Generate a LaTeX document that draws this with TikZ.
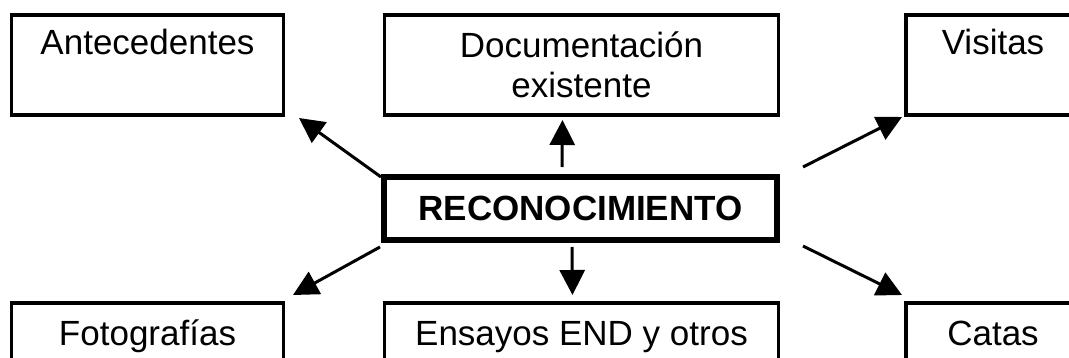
\documentclass[tikz,border=0pt]{standalone}
\usepackage{fontspec}
\setmainfont{Liberation Sans}
\usetikzlibrary{arrows.meta}
\begin{document}
\begin{tikzpicture}[x=1pt,y=-1pt,
  box/.style={draw, line width=3.3pt, outer sep=0pt, inner xsep=0pt, inner ysep=0pt, font=\fontsize{35}{40}\selectfont},
  topbox/.style={box, text height=40pt, text depth=60pt},
  botbox/.style={box, text height=42pt, text depth=40pt},
  mainbox/.style={box, line width=6pt, font=\fontsize{35}{40}\selectfont\bfseries, minimum width=393pt, minimum height=63pt},
  arr/.style={line width=3pt, -{Triangle[length=25pt,width=25pt]}}]
\useasboundingbox (0,0) rectangle (1069,358);
\clip (0,0) rectangle (1069,358);
\node[topbox, minimum width=272pt, anchor=north west] (A) at (11.5,15) {Antecedentes};
\node[box, align=center, minimum width=394pt, minimum height=100pt, anchor=north west] (D) at (384.5,15) {Documentación\\existente};
\node[topbox, minimum width=174pt, anchor=north west] (V) at (906,15) {Visitas};
\node[mainbox, anchor=north west] (R) at (384,177) {RECONOCIMIENTO};
\node[botbox, minimum width=272pt, anchor=north west] (F) at (11.5,303) {Fotografías};
\node[botbox, minimum width=394pt, anchor=north west] (E) at (384.5,303) {Ensayos END y otros};
\node[botbox, minimum width=174pt, anchor=north west] (C) at (906,303) {Catas};
\draw[arr] ([shift={(-3,0)}]R.north west) -- ([shift={(15.5,3)}]A.south east);
\draw[arr] ([shift={(-18.5,-10)}]R.north) -- ([shift={(-19,5)}]D.south);
\draw[arr] ([shift={(26,-10)}]R.north east) -- ([shift={(-4,2)}]V.south west);
\draw[arr] ([shift={(-4,7)}]R.south west) -- ([shift={(9.5,-8)}]F.north east);
\draw[arr] ([shift={(-8.5,7)}]R.south) -- ([shift={(-9,-8)}]E.north);
\draw[arr] ([shift={(26,6)}]R.south east) -- ([shift={(-4,-8)}]C.north west);
\end{tikzpicture}
\end{document}
